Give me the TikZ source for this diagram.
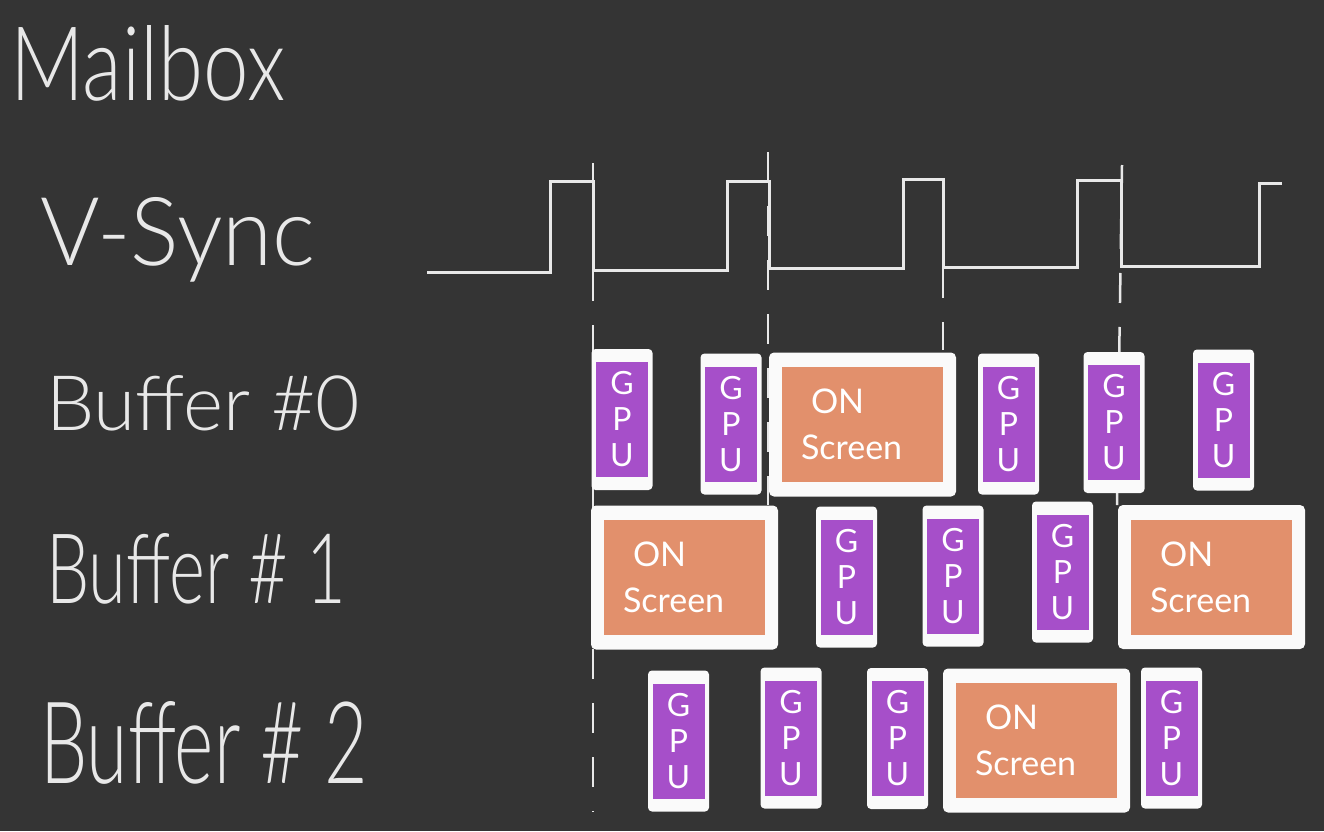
\documentclass[tikz,border=0pt]{standalone}
\usepackage{fontspec}
\usepackage{graphicx}
\setmainfont{Lato Light}
\newfontfamily\boxfont{Lato}
\definecolor{bg}{HTML}{343434}
\definecolor{chalk}{HTML}{E8E8E8}
\definecolor{gpupurple}{HTML}{A64FC9}
\definecolor{scrorange}{HTML}{E2906C}
\definecolor{paper}{HTML}{FAFAFA}
\tikzset{
  wave/.style={draw=chalk, line width=3pt, line join=miter},
  vsep/.style={draw=chalk, line width=2.5pt, dash pattern=on 30pt off 24pt},
  label/.style={anchor=base west, text=chalk, inner sep=0pt},
  outerg/.style={fill=paper, rounded corners=4pt, minimum width=61pt, minimum height=141pt, inner sep=0pt},
  outers/.style={fill=paper, rounded corners=5pt, minimum width=187pt, minimum height=144pt, inner sep=0pt},
  gpuin/.style={fill=gpupurple, minimum width=52pt, minimum height=115pt, inner sep=0pt, text=white, align=center, font=\boxfont\fontsize{32}{36}\selectfont},
  scrin/.style={fill=scrorange, minimum width=161pt, minimum height=115pt, inner ysep=0pt, inner xsep=19pt, text width=123pt, text=white, align=left, font=\boxfont\fontsize{34}{50}\selectfont}
}
\newcommand\gpunode[3]{\node[outerg] (#1) at (#2,#3) {};
  \node[gpuin] (#1i) at (#1) {G\\P\\U};}
\newcommand\scrnode[3]{\node[outers] (#1) at (#2,#3) {};
  \node[scrin] (#1i) at (#1) {\hspace*{10pt}ON\\[-4pt]Screen};}
\begin{document}
\begin{tikzpicture}[x=1pt,y=-1pt]
\path[fill=bg] (0,0) rectangle (1324,831);
\useasboundingbox (0,0) rectangle (1324,831);
% labels
\node[label] (mailbox) at (10,100) {\resizebox{275pt}{75pt}{Mailbox}};
\node[label] (vsync) at (40,265) {\resizebox{275pt}{68pt}{V-Sync}};
\node[label] (buf0) at (46,430) {\resizebox{314pt}{55pt}{Buffer \#0}};
\node[label] (buf1) at (46,603) {\resizebox{300pt}{70pt}{Buffer \# 1}};
\node[label] (buf2) at (40,783) {\resizebox{328pt}{82pt}{Buffer \# 2}};
% v-sync dashed separators
\coordinate (d1t) at (593,163); \coordinate (d1b) at (593,812);
\coordinate (d2t) at (768,152); \coordinate (d2b) at (768,505);
\coordinate (d3t) at (943,268); \coordinate (d3b) at (943,350);
\coordinate (d4t) at (1122,165); \coordinate (d4b) at (1117,505);
\draw[vsep] (d1t) -- (d1b);
\draw[vsep] (d2t) -- (d2b);
\draw[vsep] (d3t) -- (d3b);
\draw[vsep] (d4t) -- (d4b);
% waveform
\draw[wave] (427,272) -- (550,272) -- (550,181) -- (593,181) -- (593,270)
  -- (727,270) -- (727,181) -- (769,181) -- (769,268)
  -- (903,268) -- (903,179) -- (943,179) -- (943,267)
  -- (1077,267) -- (1077,180) -- (1121,180) -- (1121,266)
  -- (1259,266) -- (1259,183) -- (1282,183);
% Buffer #0
\gpunode{b0a}{622}{419.5}
\gpunode{b0b}{731}{424}
\scrnode{b0s}{862.5}{424.5}
\gpunode{b0c}{1008.5}{424}
\gpunode{b0d}{1114}{422.5}
\gpunode{b0e}{1223.5}{420}
% Buffer #1
\scrnode{b1s}{684.5}{577.5}
\gpunode{b1a}{846.5}{577}
\gpunode{b1b}{953}{576}
\gpunode{b1c}{1062.5}{572}
\scrnode{b1t}{1211.5}{577}
% Buffer #2
\gpunode{b2a}{678.5}{741}
\gpunode{b2b}{791}{738}
\gpunode{b2c}{897.5}{738.5}
\scrnode{b2s}{1036.5}{740.5}
\gpunode{b2d}{1171.5}{738}
\end{tikzpicture}
\end{document}
